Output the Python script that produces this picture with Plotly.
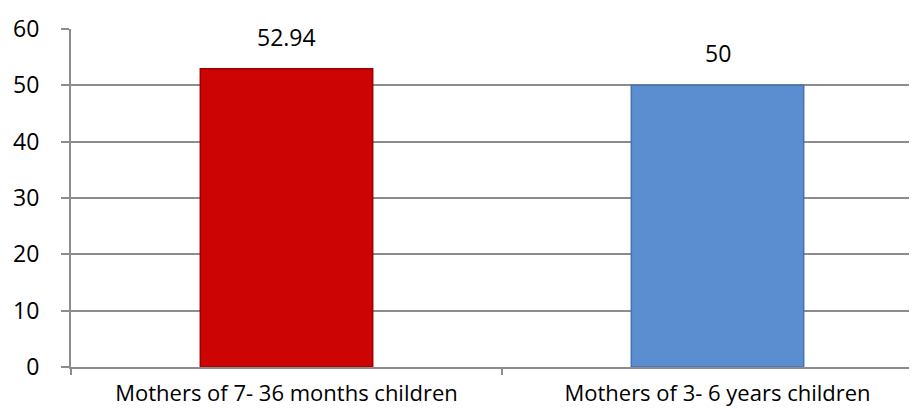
import plotly.graph_objects as go

categories = ["Mothers of 7- 36 months children", "Mothers of 3- 6 years children"]
values = [52.94, 50]
labels = ["52.94", "50"]
bar_colors = ["#CC0404", "#5A8ED0"]
edge_colors = ["#9E0000", "#4574AE"]

fig = go.Figure()

fig.add_trace(go.Bar(
    x=[0, 1], y=values,
    marker=dict(color=bar_colors, line=dict(color=edge_colors, width=1.5)),
    width=0.4,
    hoverinfo="skip",
))

# value labels above the bars
for i, (v, t) in enumerate(zip(values, labels)):
    fig.add_annotation(x=i, y=v, text=t, showarrow=False, yanchor="bottom",
                       yshift=14, font=dict(size=23, color="black"))

fig.update_layout(
    width=917, height=409,
    margin=dict(l=63, r=0, t=21, b=50),
    paper_bgcolor="white", plot_bgcolor="white",
    font=dict(family="Open Sans", size=23, color="black"),
    showlegend=False,
    xaxis=dict(
        range=[-0.5, 1.5 - 8 / 431],
        tickmode="array", tickvals=[0, 1], ticktext=categories,
        showgrid=False, showline=True, linecolor="#8c8c8c", linewidth=2,
        ticks="", zeroline=False, ticklabelstandoff=6,
        tickfont=dict(size=22),
    ),
    yaxis=dict(
        range=[0, 60], dtick=10,
        showgrid=True, gridcolor="#8c8c8c", gridwidth=2,
        showline=True, linecolor="#8c8c8c", linewidth=2,
        ticks="outside", ticklen=8, tickcolor="#8c8c8c", tickwidth=2,
        zeroline=False, ticklabelstandoff=17,
    ),
)

# boundary ticks on the x axis
fig.add_shape(type="line", xref="x", yref="paper", x0=0.5, x1=0.5, y0=0, y1=-0.024,
              line=dict(color="#8c8c8c", width=2))
fig.add_shape(type="line", xref="paper", yref="paper", x0=0, x1=0, y0=0, y1=-0.024,
              line=dict(color="#8c8c8c", width=2))

fig.write_html("out.html")
